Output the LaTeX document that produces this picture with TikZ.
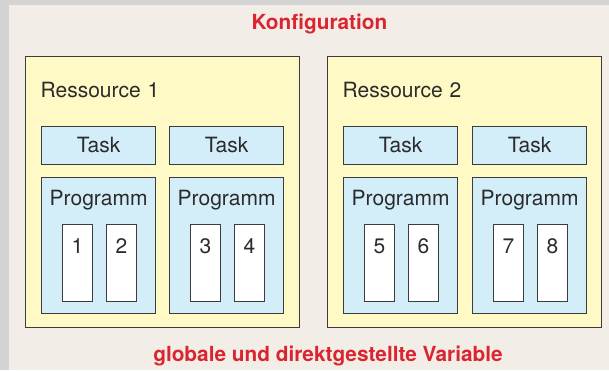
\documentclass[tikz,border=0pt]{standalone}
\usepackage{fontspec}
\setmainfont{TeX Gyre Heros}
\usepackage{xcolor}
\usepackage{tikz}
\usetikzlibrary{positioning}

\definecolor{framegray}{HTML}{D3D3D3}
\definecolor{paper}{HTML}{F2EEE7}
\definecolor{resyellow}{HTML}{FFF9C6}
\definecolor{taskblue}{HTML}{D3EDF9}
\definecolor{linegray}{HTML}{3C3C3C}
\definecolor{titlered}{HTML}{DA2530}
\definecolor{textgray}{HTML}{2B2B2B}

\tikzset{res box/.style={draw=linegray,line width=1.3pt,fill=resyellow,anchor=north west,
            minimum width=274pt,text width=244pt,align=left,inner xsep=15pt,
            inner ysep=26.3pt,text height=15pt,text depth=203.4pt,
            font=\fontsize{21}{25}\selectfont,text=textgray},
         task box/.style={draw=linegray,line width=1.2pt,fill=taskblue,anchor=north west,
            minimum width=114pt,minimum height=38.3pt,inner sep=0pt,
            font=\fontsize{21}{25}\selectfont,text=textgray},
         prog box/.style={draw=linegray,line width=1.2pt,fill=taskblue,anchor=north west,
            minimum width=114pt,inner xsep=0pt,inner ysep=13pt,text height=15pt,text depth=95pt,
            font=\fontsize{21}{25}\selectfont,text=textgray},
         var box/.style={draw=linegray,line width=1pt,fill=white,anchor=north west,
            minimum width=30pt,inner xsep=0pt,inner ysep=13.7pt,text height=15pt,text depth=34.6pt,
            font=\fontsize{21}{25}\selectfont,text=textgray},
         title/.style={anchor=base,text=titlered,inner sep=0pt,
            font=\bfseries\fontsize{20.8}{24}\selectfont}
            }

\begin{document}
\begin{tikzpicture}[x=1pt,y=-1pt]
        \useasboundingbox (0,0) rectangle (609,370);
        \fill[framegray] (0,0) rectangle (609,370);
        \fill[paper] (9,5) rectangle (609,370);

        \node[title] (konf) at (319.5,29) {Konfiguration};
        \node[title] (glob) at (328,361) {globale und direktgestellte Variable};

        % Ressource 1
        \node[res box] (res1) at (25,56) {Ressource 1};
        \node[task box] (task1) at (41,125.7) {Task};
        \node[task box] (task2) at (169,125.7) {Task};
        \node[prog box] (prog1) at (41,177) {Programm};
        \node[prog box] (prog2) at (169,177) {Programm};
        \node[var box] (v1) at (62,224) {1};
        \node[var box] (v2) [right = 13pt of v1] {2};
        \node[var box] (v3) at (190,224) {3};
        \node[var box] (v4) [right = 13pt of v3] {4};

        % Ressource 2
        \node[res box] (res2) at (327,56) {Ressource 2};
        \node[task box] (task3) at (343,125.7) {Task};
        \node[task box] (task4) at (472,125.7) {Task};
        \node[prog box] (prog3) at (343,177) {Programm};
        \node[prog box] (prog4) at (472,177) {Programm};
        \node[var box] (v5) at (364,224) {5};
        \node[var box] (v6) [right = 13pt of v5] {6};
        \node[var box] (v7) at (493,224) {7};
        \node[var box] (v8) [right = 13pt of v7] {8};
      \end{tikzpicture}
\end{document}
